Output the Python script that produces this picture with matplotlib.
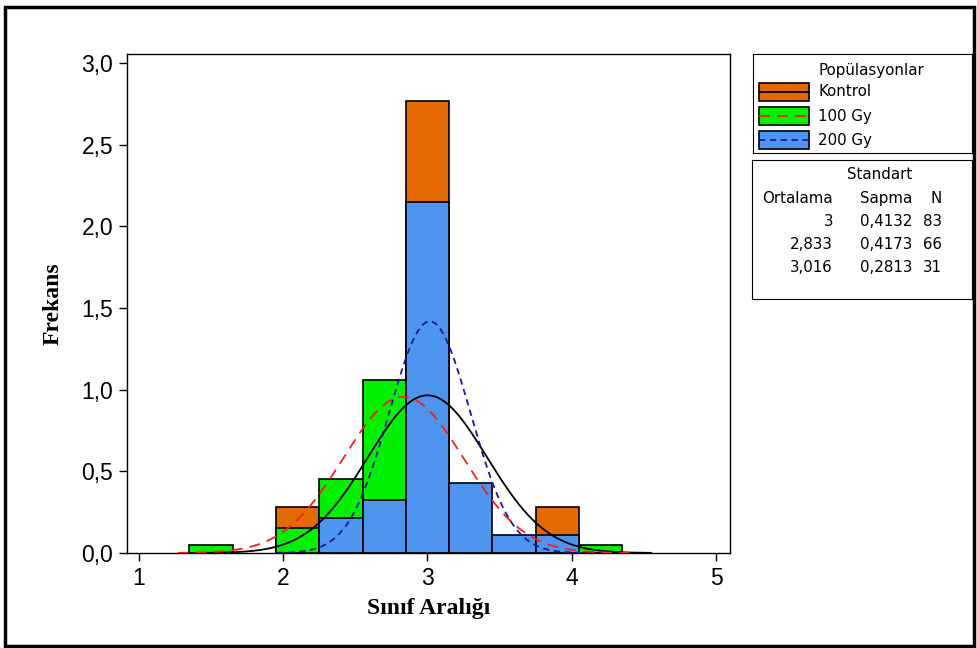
import matplotlib
matplotlib.use("Agg")
import matplotlib.pyplot as plt
from matplotlib import font_manager
from matplotlib.patches import Rectangle
import numpy as np

# sınıf merkezleri (genişlik 0,3)
bin_centers = [1.5, 1.8, 2.1, 2.4, 2.7, 3.0, 3.3, 3.6, 3.9, 4.2]
bin_width = 0.3

# yoğunluk değerleri (Frekans)
kontrol = [0.0, 0.0, 0.28, 0.0, 0.0, 2.77, 0.0, 0.0, 0.28, 0.0]
gy100 = [0.05, 0.0, 0.15, 0.45, 1.06, 1.57, 0.0, 0.0, 0.0, 0.05]
gy200 = [0.0, 0.0, 0.0, 0.215, 0.325, 2.15, 0.43, 0.11, 0.11, 0.0]

groups = ["Kontrol", "100 Gy", "200 Gy"]
means = [3.0, 2.833, 3.016]
sds = [0.4132, 0.4173, 0.2813]
ns = [83, 66, 31]
mean_txt = ["3", "2,833", "3,016"]
sd_txt = ["0,4132", "0,4173", "0,2813"]

fills = ["#E36A00", "#00F000", "#4E95EF"]
line_colors = ["black", "#FF1A1A", "#1A1A9C"]
line_styles = ["-", (0, (6, 4)), (0, (3.5, 2.5))]

names = {f.name for f in font_manager.fontManager.ttflist}
tick_font = "DejaVu Sans"
for cand in ["Liberation Sans Narrow", "DejaVu Sans Condensed", "Liberation Sans"]:
    if cand in names:
        tick_font = cand
        break

fig = plt.figure(figsize=(9.77, 6.48), dpi=100)
ax = fig.add_axes([127/977, 1-553/648, 603/977, 499/648])

for vals, col in zip([kontrol, gy100, gy200], fills):
    x = [c for c, v in zip(bin_centers, vals) if v > 0]
    h = [v for v in vals if v > 0]
    ax.bar(x, h, width=bin_width, color=col, edgecolor="black", linewidth=1.2, zorder=2)

for m, s, lc, ls in zip(means, sds, line_colors, line_styles):
    xs = np.linspace(m - 3.75*s, m + 3.75*s, 400)
    ys = np.exp(-0.5*((xs - m)/s)**2) / (s*np.sqrt(2*np.pi))
    ax.plot(xs, ys, color=lc, linestyle=ls, linewidth=1.3, zorder=3)

ax.set_xlim(0.917, 5.097)
ax.set_ylim(0, 3.055)
ax.set_xticks([1, 2, 3, 4, 5])
ax.set_xticklabels(["1", "2", "3", "4", "5"])
ax.set_yticks([0, 0.5, 1.0, 1.5, 2.0, 2.5, 3.0])
ax.set_yticklabels(["0,0", "0,5", "1,0", "1,5", "2,0", "2,5", "3,0"])
ax.tick_params(direction="out", length=6, width=1, labelsize=16.5, pad=4)
for lab in ax.get_xticklabels() + ax.get_yticklabels():
    lab.set_fontfamily(tick_font)
for sp in ax.spines.values():
    sp.set_linewidth(1.0)

ax.set_xlabel("Sınıf Aralığı", family="Liberation Serif", fontweight="bold", fontsize=17, labelpad=6)
ax.set_ylabel("Frekans", family="Liberation Serif", fontweight="bold", fontsize=17, labelpad=13)

# lejant kutusu 1
lg = fig.add_axes([753/977, 1-153/648, 219/977, 99/648])
lg.set_xlim(0, 219)
lg.set_ylim(99, 0)
lg.set_xticks([])
lg.set_yticks([])
lg.text(65, 16, "Popülasyonlar", fontsize=10.8, va="center", ha="left")
for i, g in enumerate(groups):
    y0 = 29 + i*24
    lg.add_patch(Rectangle((6, y0), 50, 18, facecolor=fills[i], edgecolor="black", linewidth=1.2))
    lg.plot([6, 56], [y0 + 9, y0 + 9], color=line_colors[i], linestyle=line_styles[i], linewidth=1.3)
    lg.text(65, y0 + 9, g, fontsize=10.8, va="center", ha="left")

# lejant kutusu 2
st = fig.add_axes([752/977, 1-299/648, 220/977, 139/648])
st.set_xlim(752, 972)
st.set_ylim(299, 160)
st.set_xticks([])
st.set_yticks([])
st.text(880, 175, "Standart", fontsize=10.8, va="center", ha="center")
st.text(833, 199, "Ortalama", fontsize=10.8, va="center", ha="right")
st.text(912, 199, "Sapma", fontsize=10.8, va="center", ha="right")
st.text(942, 199, "N", fontsize=10.8, va="center", ha="right")
for i in range(3):
    yy = 222 + i*23
    st.text(833, yy, mean_txt[i], fontsize=10.8, va="center", ha="right")
    st.text(912, yy, sd_txt[i], fontsize=10.8, va="center", ha="right")
    st.text(942, yy, str(ns[i]), fontsize=10.8, va="center", ha="right")

# dış çerçeve
fig.patches.append(Rectangle((5/977, 1-646/648), 969/977, 639/648, transform=fig.transFigure,
                             fill=False, edgecolor="black", linewidth=2.5))

fig.savefig("out.png", dpi=100)
